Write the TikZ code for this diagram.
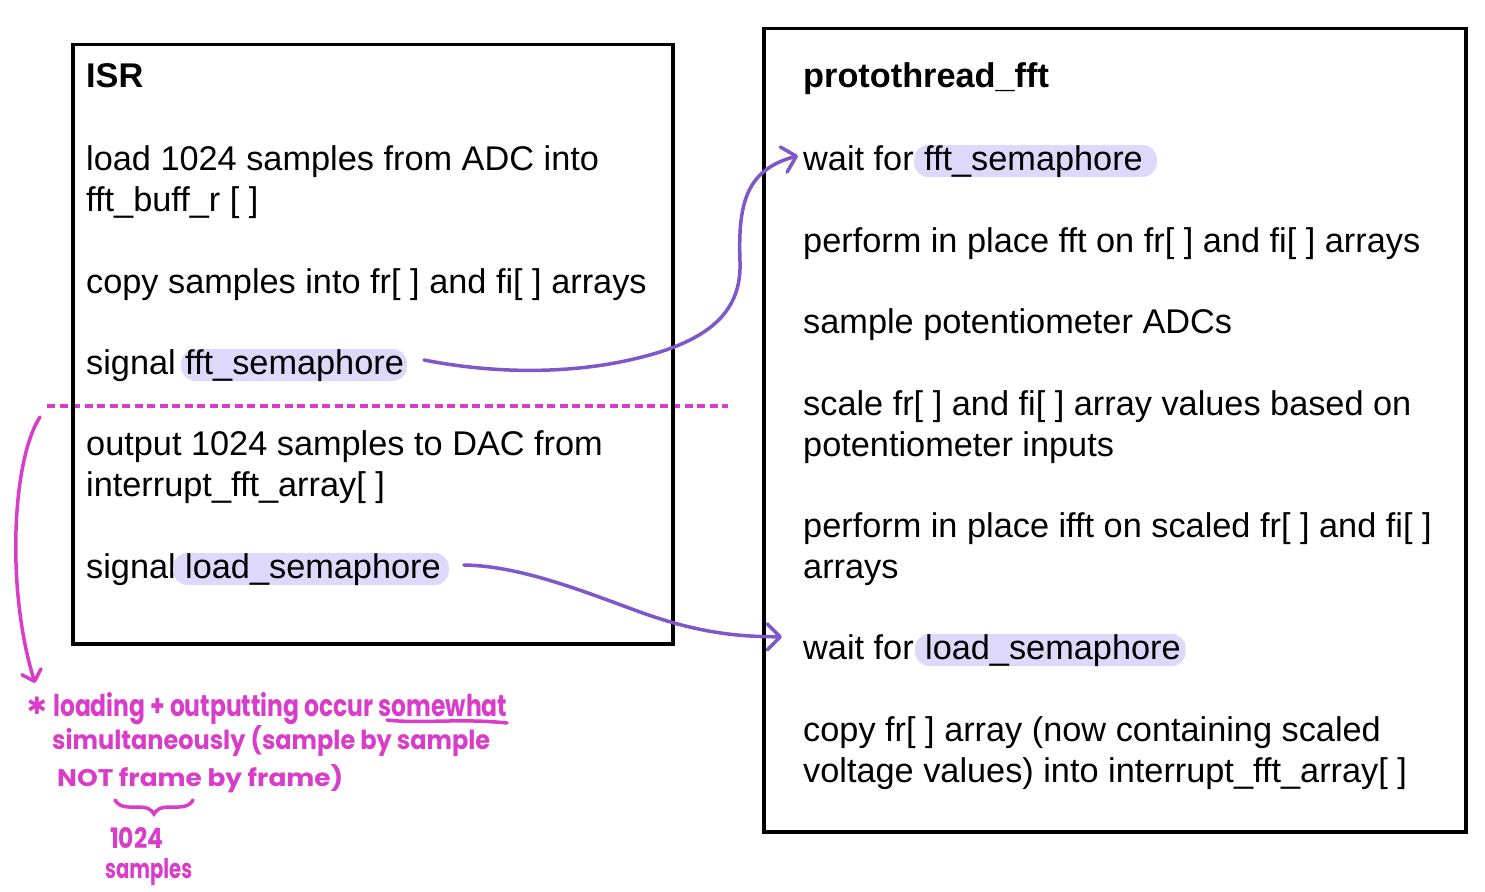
\documentclass[tikz,border=0pt]{standalone}
\usepackage{fontspec}
\setmainfont{Liberation Sans}
\newfontfamily\hand{Poppins}
\newfontfamily\symfont{DejaVu Sans}
\usepackage{graphicx}
\usetikzlibrary{arrows.meta,decorations.pathreplacing}
\definecolor{pcol}{RGB}{126,87,200}
\definecolor{mcol}{RGB}{216,60,200}
\definecolor{hlcol}{RGB}{222,217,250}
\begin{document}
\begin{tikzpicture}[x=1pt,y=-1pt,
  txt/.style={anchor=base west, inner sep=0pt, font=\fontsize{34.3}{41}\selectfont},
  ttl/.style={txt, font=\fontsize{34.3}{41}\selectfont\bfseries},
  hl/.style={anchor=base west, fill=hlcol, rounded corners=14pt, inner xsep=0pt, inner ysep=0pt,
     text height=25pt, text depth=7pt, font=\fontsize{34.3}{41}\selectfont},
  box/.style={draw=black, line width=3.5pt, anchor=north west, inner sep=0pt},
  parrow/.style={draw=pcol, line width=3.5pt, line cap=round, line join=round,
     -{Straight Barb[length=13pt,width=26pt,line cap=round,line join=round]}},
  marrow/.style={draw=mcol, line width=3.5pt, line cap=round, line join=round,
     -{Straight Barb[length=10pt,width=20pt,line cap=round,line join=round]}},
  hw/.style={anchor=base west, inner sep=0pt, text=mcol, font=\hand\bfseries},
  mline/.style={draw=mcol, line width=3.5pt, line cap=round},
]
\useasboundingbox (0,0) rectangle (1485,891);
\fill[white] (0,0) rectangle (1485,891);

% dashed separator
\coordinate (dl) at (47,406);
\coordinate (dr) at (728,406);
\draw[draw=mcol, line width=4pt, dash pattern=on 8pt off 4.5pt] (dl) -- (dr);

% boxes
\node[box, minimum width=600pt, minimum height=599pt] (isr) at (71,43) {};
\node[box, minimum width=702pt, minimum height=803pt] (proto) at (762,27) {};

% left box text
\node[ttl] (l0) at (86,88) {ISR};
\node[txt] (l1) at (86,170) {load 1024 samples from ADC into};
\node[txt] (l2) at (86,211) {fft\_buff\_r [ ]};
\node[txt] (l3) at (86,293) {copy samples into fr[ ] and fi[ ] arrays};
\node[txt] (l4) at (86,374) {signal};
\node[hl] (h1) at ([xshift=5pt]l4.base east) {\hspace*{4pt}fft\_semaphore\hspace*{3pt}};
\node[txt] (l5) at (86,455) {output 1024 samples to DAC from};
\node[txt] (l6) at (86,496) {interrupt\_fft\_array[ ]};
\node[txt] (l7) at (86,578) {signal};
\node[hl] (h2) at ([xshift=-3pt]l7.base east) {\hspace*{12pt}load\_semaphore\hspace*{8pt}};

% right box text
\node[ttl] (r0) at (803,88) {protothread\_fft};
\node[txt] (r1) at (803,170) {wait for};
\node[hl] (h3) at (r1.base east) {\hspace*{10pt}fft\_semaphore\hspace*{14pt}};
\node[txt] (r2) at (803,252) {perform in place fft on fr[ ] and fi[ ] arrays};
\node[txt] (r3) at (803,333) {sample potentiometer ADCs};
\node[txt] (r4) at (803,415) {scale fr[ ] and fi[ ] array values based on};
\node[txt] (r5) at (803,456) {potentiometer inputs};
\node[txt] (r6) at (803,537) {perform in place ifft on scaled fr[ ] and fi[ ]};
\node[txt] (r7) at (803,578) {arrays};
\node[txt] (r8) at (803,659) {wait for};
\node[hl] (h4) at ([xshift=1pt]r8.base east) {\hspace*{10pt}load\_semaphore\hspace*{5pt}};
\node[txt] (r9) at (803,741) {copy fr[ ] array (now containing scaled};
\node[txt] (r10) at (803,782) {voltage values) into interrupt\_fft\_array[ ]};

% purple connectors
\draw[parrow] ([xshift=17pt,yshift=5pt]h1.east) .. controls (500,375) and (570,372) .. (620,362)
   .. controls (700,346) and (742,318) .. (740,262)
   .. controls (738,205) and (745,170) .. ([xshift=-5pt,yshift=2pt]r1.west);
\draw[parrow] ([xshift=15pt,yshift=4pt]h2.east) .. controls (520,566) and (580,590) .. (640,612)
   .. controls (690,630) and (730,637) .. ([xshift=-21pt,yshift=10pt]r8.west);

% handwritten note
\coordinate (mtip) at (35,683);
\draw[marrow] (40,417) .. controls (12,460) and (6,590) .. (mtip);
\node[anchor=center, inner sep=0pt, text=mcol, font=\symfont\fontsize{24}{24}\selectfont] (hw0) at (37,706) {✱};
\node[hw] (hw1) at (53,716) {\resizebox{454pt}{24pt}{loading + outputting occur somewhat}};
\node[hw] (hw2) at (52,749) {\resizebox{438pt}{24pt}{simultaneously (sample by sample}};
\node[hw] (hw3) at (57,786) {\resizebox{286pt}{22pt}{NOT frame by frame)}};
\node[hw] (hw4) at (110,848) {\resizebox{53pt}{21pt}{1024}};
\node[hw] (hw5) at (105,878) {\resizebox{87pt}{20pt}{samples}};
\draw[mline] (387,720) .. controls (420,724) and (460,718) .. (507,723);
\draw[mline, decorate, decoration={brace, mirror, amplitude=14pt}] (115,800) -- (193,800);
\end{tikzpicture}
\end{document}
